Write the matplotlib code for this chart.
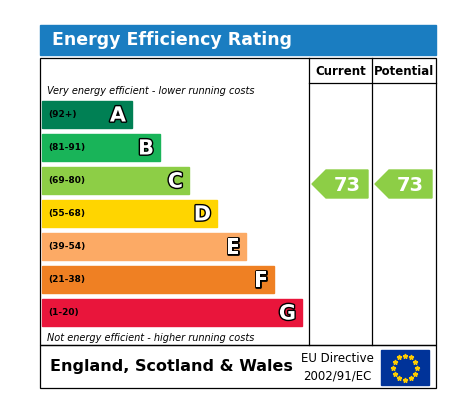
import matplotlib
matplotlib.use("Agg")
import matplotlib.pyplot as plt
from matplotlib.patches import Rectangle, Polygon
import matplotlib.patheffects as pe

bands = ["A", "B", "C", "D", "E", "F", "G"]
ranges = ["(92+)", "(81-91)", "(69-80)", "(55-68)", "(39-54)", "(21-38)", "(1-20)"]
colors = ["#008054", "#19b459", "#8dce46", "#ffd500", "#fcaa65", "#ef8023", "#e9153b"]
current = 73
potential = 73

fig = plt.figure(figsize=(4.65, 4.12), dpi=100)
ax = fig.add_axes([0, 0, 1, 1])
ax.set_xlim(0, 465); ax.set_ylim(412, 0); ax.axis("off")

# header
ax.add_patch(Rectangle((40, 25), 396, 30, color="#1a7dc1"))
ax.text(52, 40, "Energy Efficiency Rating", color="white", fontsize=12.5, fontweight="bold", va="center", ha="left")

lw = 0.9
ax.add_patch(Rectangle((40, 58), 396, 287, fill=False, ec="black", lw=lw))
ax.add_patch(Rectangle((40, 345), 396, 43, fill=False, ec="black", lw=lw))
for x in (309, 372):
    ax.plot([x, x], [58, 345], color="black", lw=lw)
ax.plot([309, 436], [83, 83], color="black", lw=lw)
ax.text(340.5, 71, "Current", fontsize=8.5, fontweight="bold", ha="center", va="center")
ax.text(404, 71, "Potential", fontsize=8.5, fontweight="bold", ha="center", va="center")

ax.text(47, 91, "Very energy efficient - lower running costs", fontsize=7, style="italic", va="center")
ax.text(47, 338, "Not energy efficient - higher running costs", fontsize=7, style="italic", va="center")

top, h, step = 101, 27, 33
ends = [132, 160, 189, 217, 246, 274, 302]
for i, (b, r, c) in enumerate(zip(bands, ranges, colors)):
    y = top + i * step
    ax.add_patch(Rectangle((42, y), ends[i] - 42, h, color=c))
    ax.text(48, y + h / 2, r, fontsize=6.5, fontweight="bold", color="black", va="center")
    ax.text(ends[i] - 6, y + h / 2 + 1, b, fontsize=15, fontweight="bold", color="white",
            ha="right", va="center", path_effects=[pe.withStroke(linewidth=2, foreground="black")])

def arrow(x0, x1, val):
    idx = 2
    y0, y1 = 170, 198
    ym = (y0 + y1) / 2
    ax.add_patch(Polygon([(x0, ym), (x0 + 14, y0), (x1, y0), (x1, y1), (x0 + 14, y1)], color=colors[idx]))
    ax.text((x0 + 14 + x1) / 2, ym + 1, str(val), fontsize=14, fontweight="bold", color="white", ha="center", va="center")

arrow(312, 368, current)
arrow(375, 432, potential)

ax.text(50, 367, "England, Scotland & Wales", fontsize=11.5, fontweight="bold", va="center")
ax.text(337, 359, "EU Directive", fontsize=8.5, ha="center", va="center")
ax.text(337, 376, "2002/91/EC", fontsize=8.5, ha="center", va="center")
ax.add_patch(Rectangle((381, 350), 48, 35, color="#003399"))
import math
for k in range(12):
    a = 2 * math.pi * k / 12
    ax.plot(405 + 12 * math.cos(a), 367.5 + 12 * math.sin(a), marker="*", color="#ffcc00", ms=3.5)

fig.savefig("out.png", dpi=100)
